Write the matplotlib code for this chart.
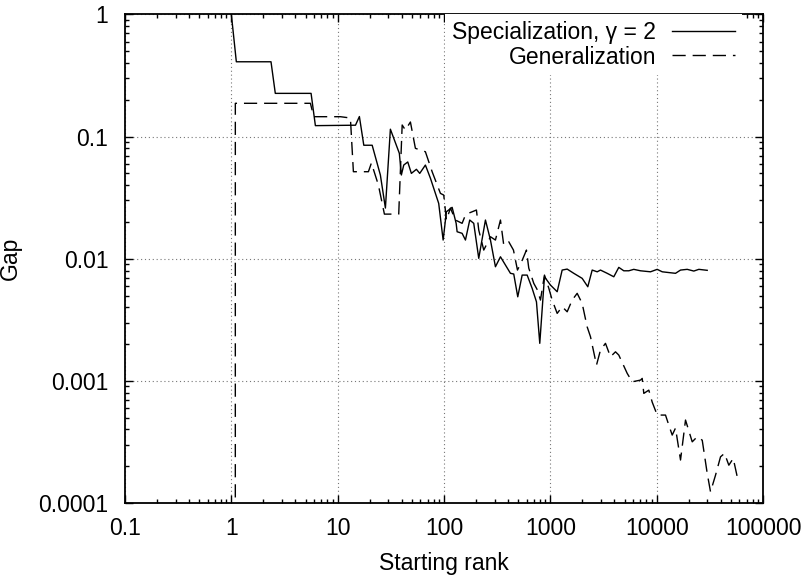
import matplotlib
matplotlib.use("Agg")
import matplotlib.pyplot as plt
from matplotlib.ticker import FixedLocator, FixedFormatter, LogLocator, NullFormatter

plt.rcParams['font.family'] = ['Liberation Sans', 'DejaVu Sans']

# Specialization, gamma = 2 (solid)
spec_rank = [1.0, 1.114, 2.36, 2.59, 5.62, 6.17, 14.7, 16.0, 17.6, 21.1, 25.2, 28.1,
             31.3, 38.0, 39.7, 41.8, 45.6, 49.3, 55.0, 59.1, 66.8, 74.5, 89.1, 98.1,
             105.3, 119.2, 130.0, 132.8, 147.9, 159.0, 174.5, 190.3, 212.1, 245.2,
             273.3, 304.4, 339.3, 378.1, 421.3, 452.5, 493.6, 542.9, 605.0, 674.3,
             740.0, 795.1, 880.0, 1002, 1159, 1291, 1439, 1660, 1991, 2249, 2473,
             2757, 2960, 3422, 3950, 4400, 4903, 5465, 6088, 7040, 8744, 10110,
             11270, 13480, 15030, 16750, 19360, 22340, 24900, 29850]
spec_gap = [1.0, 0.41, 0.41, 0.226, 0.226, 0.123, 0.124, 0.146, 0.085, 0.085, 0.0485,
            0.026, 0.115, 0.073, 0.0485, 0.0585, 0.062, 0.050, 0.054, 0.050, 0.0585,
            0.0456, 0.0284, 0.01423, 0.02426, 0.02636, 0.0195, 0.01664, 0.01615,
            0.01423, 0.02075, 0.0195, 0.01008, 0.02075, 0.01423, 0.0086, 0.01038,
            0.00888, 0.0076, 0.0075, 0.00488, 0.00735, 0.00735, 0.00572, 0.00444,
            0.00203, 0.00712, 0.00609, 0.00537, 0.00808, 0.00823, 0.0076, 0.00691,
            0.0059, 0.00808, 0.00782, 0.00808, 0.0076, 0.00712, 0.0085, 0.00797,
            0.00797, 0.00819, 0.00797, 0.00782, 0.00819, 0.00782, 0.00768, 0.0076,
            0.00808, 0.00819, 0.00793, 0.00819, 0.00804]

# Generalization (dashed)
gen_rank = [1.0, 1.09, 5.54, 5.95, 10.6, 13.17, 14.05, 19.45, 20.75, 24.15, 27.5,
            37.5, 40.4, 43.3, 48.3, 53.8, 66.8, 77.3, 92.5, 99.4, 105.3, 114.9, 128.0,
            147.9, 159.0, 174.5, 201.7, 212.1, 236.4, 273.3, 304.4, 339.3, 364.4,
            406.1, 449.7, 490.4, 534.8, 595.8, 626.3, 698.2, 756.2, 807.1, 880.0,
            966, 1040, 1159, 1291, 1439, 1603, 1787, 1991, 2218, 2384, 2715, 2960,
            3298, 3676, 4097, 4400, 5280, 5884, 7040, 7305, 7563, 8428, 9072, 10110,
            12100, 12990, 13990, 15030, 16750, 18660, 21580, 24050, 26800, 29850,
            32070, 35740, 39830, 43430, 47690, 52440, 57190]
gen_gap = [0.0, 0.1874, 0.1874, 0.1456, 0.1456, 0.142, 0.0516, 0.0516, 0.0608, 0.0401,
           0.0232, 0.0232, 0.1245, 0.1133, 0.1317, 0.0802, 0.0752, 0.0516, 0.0343,
           0.0332, 0.02075, 0.026, 0.02075, 0.0195, 0.0228, 0.0238, 0.02506, 0.01718,
           0.01178, 0.01514, 0.01423, 0.02075, 0.01295, 0.01378, 0.01178, 0.00808,
           0.0094, 0.01178, 0.00839, 0.00629, 0.00554, 0.00459, 0.00735, 0.00575,
           0.00459, 0.00357, 0.00405, 0.00368, 0.00459, 0.00521, 0.00431, 0.00277,
           0.0023, 0.001347, 0.001788, 0.00203, 0.001576, 0.00173, 0.001627,
           0.001152, 0.000983, 0.001015, 0.001048, 0.00079, 0.00084, 0.00067,
           0.000525, 0.000525, 0.000435, 0.00036, 0.000411, 0.000225, 0.000478,
           0.000317, 0.000349, 0.000327, 0.000175, 0.0001235, 0.000169, 0.000239,
           0.000255, 0.000204, 0.000232, 0.000164]

x_ticks = [0.1, 1, 10, 100, 1000, 10000, 100000]
x_tick_labels = ['0.1', '1', '10', '100', '1000', '10000', '100000']
y_ticks = [0.0001, 0.001, 0.01, 0.1, 1]
y_tick_labels = ['0.0001', '0.001', '0.01', '0.1', '1']

FS = 16.5

fig = plt.figure(figsize=(8.06, 5.77), dpi=100)
ax = fig.add_axes([0.1551, 0.1282, 0.7916, 0.8467])
ax.set_xscale('log', nonpositive='clip')
ax.set_yscale('log', nonpositive='clip')

ax.plot(spec_rank, spec_gap, color='black', lw=1.0, label='Specialization, \u03b3 = 2', zorder=3)
ax.plot(gen_rank, gen_gap, color='black', lw=1.0, dashes=(9.5, 5), label='Generalization', zorder=3)

ax.set_xlim(0.1, 100000)
ax.set_ylim(0.0001, 1)

ax.xaxis.set_major_locator(FixedLocator(x_ticks))
ax.xaxis.set_major_formatter(FixedFormatter(x_tick_labels))
ax.yaxis.set_major_locator(FixedLocator(y_ticks))
ax.yaxis.set_major_formatter(FixedFormatter(y_tick_labels))
ax.xaxis.set_minor_locator(LogLocator(base=10, subs=range(2, 10), numticks=20))
ax.yaxis.set_minor_locator(LogLocator(base=10, subs=range(2, 10), numticks=20))
ax.xaxis.set_minor_formatter(NullFormatter())
ax.yaxis.set_minor_formatter(NullFormatter())

ax.tick_params(which='both', direction='in', top=True, right=True, width=1.0, colors='black')
ax.tick_params(which='major', length=6, labelsize=FS)
ax.tick_params(axis='x', which='major', pad=10)
ax.tick_params(axis='y', which='major', pad=12)
ax.tick_params(which='minor', length=3)
for s in ax.spines.values():
    s.set_linewidth(1.3)

ax.grid(True, which='major', linestyle=(0, (1, 2.5)), color='#777777', lw=0.8, zorder=1)

ax.set_xlabel('Starting rank', fontsize=FS, labelpad=9)
ax.set_ylabel('Gap', fontsize=FS, labelpad=12)

leg = ax.legend(loc='upper right', bbox_to_anchor=(0.967, 1.0), markerfirst=False,
                frameon=True, fontsize=FS, handlelength=2.75, handletextpad=0.7,
                labelspacing=0.05, borderpad=0.3, borderaxespad=0.0, fancybox=False)
leg.get_frame().set_facecolor('white')
leg.get_frame().set_edgecolor('none')
leg.get_frame().set_alpha(1.0)
leg.set_zorder(5)

fig.savefig('out.png', dpi=100)
